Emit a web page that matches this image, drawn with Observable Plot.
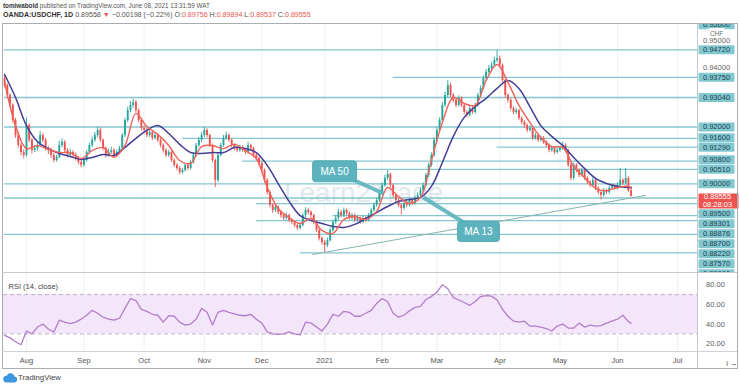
<!DOCTYPE html>
<html><head><meta charset="utf-8">
<script src="https://cdn.jsdelivr.net/npm/d3@7"></script>
<script src="https://cdn.jsdelivr.net/npm/@observablehq/plot@0.6"></script>
<style>
body{margin:0;background:#fff;font-family:"Liberation Sans",Arial,sans-serif;}
#root{position:relative;width:740px;height:389px;overflow:hidden;background:#fff;}
.abs{position:absolute;}
.red{color:#ef5350;}
</style></head>
<body><div id="root"></div>
<script>
// ---------------- DATA ----------------
const firstBarDate = "2020-07-22";       // first daily bar (weekdays only)
const firstOpen = 0.9370;
const closes = [
0.9346,0.9311,0.9276,0.9223,0.9170,0.9135,0.9110,0.9100,0.9205,0.9153,
0.9117,0.9124,0.9135,0.9170,0.9153,0.9124,0.9117,0.9100,0.9082,0.9093,
0.9135,0.9146,0.9117,0.9100,0.9110,0.9100,0.9089,0.9075,0.9065,0.9082,
0.9110,0.9135,0.9153,0.9170,0.9188,0.9153,0.9124,0.9100,0.9110,0.9117,
0.9100,0.9110,0.9124,0.9170,0.9223,0.9258,0.9276,0.9286,0.9258,0.9223,
0.9195,0.9188,0.9170,0.9181,0.9160,0.9170,0.9153,0.9135,0.9117,0.9100,
0.9110,0.9082,0.9065,0.9054,0.9040,0.9047,0.9065,0.9054,0.9075,0.9100,
0.9135,0.9153,0.9170,0.9188,0.9170,0.9135,0.9082,0.9012,0.9100,0.9135,
0.9160,0.9170,0.9153,0.9135,0.9124,0.9117,0.9128,0.9117,0.9110,0.9135,
0.9124,0.9100,0.9089,0.9072,0.9047,0.9012,0.8969,0.8924,0.8906,0.8917,
0.8899,0.8888,0.8878,0.8888,0.8871,0.8864,0.8853,0.8843,0.8853,0.8888,
0.8906,0.8899,0.8888,0.8864,0.8836,0.8807,0.8793,0.8783,0.8800,0.8836,
0.8864,0.8878,0.8899,0.8888,0.8906,0.8895,0.8878,0.8888,0.8871,0.8878,
0.8864,0.8878,0.8871,0.8888,0.8906,0.8924,0.8941,0.8966,0.8994,0.9019,
0.9033,0.8994,0.8959,0.8941,0.8924,0.8913,0.8931,0.8924,0.8941,0.8931,
0.8948,0.8959,0.8976,0.8994,0.9029,0.9065,0.9100,0.9153,0.9188,0.9223,
0.9276,0.9311,0.9346,0.9311,0.9294,0.9276,0.9301,0.9276,0.9251,0.9241,
0.9265,0.9251,0.9276,0.9311,0.9336,0.9371,0.9392,0.9406,0.9417,0.9434,
0.9441,0.9417,0.9364,0.9311,0.9294,0.9265,0.9251,0.9258,0.9230,0.9216,
0.9205,0.9188,0.9195,0.9160,0.9170,0.9153,0.9160,0.9146,0.9135,0.9117,
0.9124,0.9110,0.9117,0.9124,0.9135,0.9117,0.9065,0.9019,0.9065,0.9047,
0.9029,0.9047,0.9019,0.9005,0.8994,0.9012,0.8984,0.8969,0.8959,0.8976,
0.8969,0.8984,0.8991,0.8984,0.8994,0.9012,0.9001,0.9019,0.89756,0.89555];
const highs = [
0.9385,0.9352,0.9318,0.9282,0.9230,0.9181,0.9142,0.9120,0.9232,0.9212,
0.9160,0.9135,0.9148,0.9184,0.9178,0.9160,0.9131,0.9126,0.9108,0.9101,
0.9150,0.9158,0.9152,0.9124,0.9121,0.9117,0.9109,0.9096,0.9082,0.9090,
0.9118,0.9143,0.9165,0.9181,0.9200,0.9196,0.9158,0.9130,0.9122,0.9128,
0.9124,0.9119,0.9132,0.9178,0.9231,0.9270,0.9290,0.9298,0.9294,0.9264,
0.9230,0.9204,0.9195,0.9190,0.9186,0.9178,0.9176,0.9159,0.9141,0.9124,
0.9118,0.9116,0.9088,0.9071,0.9060,0.9055,0.9072,0.9070,0.9083,0.9108,
0.9142,0.9162,0.9180,0.9198,0.9194,0.9175,0.9140,0.9087,0.9110,0.9143,
0.9170,0.9182,0.9176,0.9158,0.9141,0.9131,0.9136,0.9134,0.9123,0.9146,
0.9140,0.9129,0.9106,0.9095,0.9078,0.9052,0.9018,0.8975,0.8930,0.8926,
0.8922,0.8905,0.8894,0.8897,0.8893,0.8877,0.8869,0.8859,0.8862,0.8896,
0.8916,0.8913,0.8905,0.8893,0.8870,0.8842,0.8813,0.8800,0.8809,0.8844,
0.8872,0.8888,0.8910,0.8906,0.8915,0.8912,0.8901,0.8896,0.8894,0.8886,
0.8883,0.8887,0.8884,0.8896,0.8914,0.8932,0.8950,0.8975,0.9003,0.9030,
0.9047,0.9038,0.8999,0.8965,0.8947,0.8930,0.8939,0.8938,0.8949,0.8947,
0.8956,0.8968,0.8985,0.9003,0.9037,0.9073,0.9109,0.9161,0.9197,0.9233,
0.9286,0.9322,0.9364,0.9355,0.9318,0.9300,0.9310,0.9306,0.9282,0.9258,
0.9273,0.9271,0.9284,0.9319,0.9345,0.9380,0.9402,0.9416,0.9428,0.9446,
0.9470,0.9450,0.9422,0.9370,0.9318,0.9300,0.9271,0.9266,0.9263,0.9236,
0.9222,0.9211,0.9204,0.9201,0.9178,0.9176,0.9168,0.9166,0.9152,0.9141,
0.9132,0.9129,0.9125,0.9132,0.9146,0.9141,0.9122,0.9070,0.9073,0.9071,
0.9053,0.9055,0.9052,0.9025,0.9011,0.9020,0.9018,0.8990,0.8975,0.8984,
0.8982,0.8992,0.8999,0.8997,0.9003,0.9054,0.9018,0.9054,0.9025,0.89894];
const lows = [
0.9338,0.9302,0.9268,0.9214,0.9160,0.9126,0.9098,0.9088,0.9094,0.9145,
0.9105,0.9110,0.9115,0.9128,0.9144,0.9116,0.9103,0.9090,0.9074,0.9076,
0.9088,0.9127,0.9108,0.9092,0.9093,0.9089,0.9080,0.9066,0.9056,0.9058,
0.9076,0.9104,0.9128,0.9146,0.9162,0.9145,0.9116,0.9090,0.9094,0.9103,
0.9091,0.9094,0.9104,0.9118,0.9163,0.9216,0.9250,0.9266,0.9250,0.9215,
0.9186,0.9178,0.9162,0.9163,0.9152,0.9154,0.9145,0.9127,0.9108,0.9092,
0.9093,0.9075,0.9057,0.9046,0.9032,0.9034,0.9041,0.9047,0.9049,0.9069,
0.9094,0.9128,0.9146,0.9163,0.9162,0.9127,0.9074,0.8987,0.9005,0.9094,
0.9128,0.9153,0.9146,0.9127,0.9116,0.9109,0.9111,0.9110,0.9102,0.9105,
0.9117,0.9092,0.9081,0.9063,0.9039,0.9003,0.8960,0.8915,0.8896,0.8899,
0.8891,0.8879,0.8870,0.8872,0.8864,0.8856,0.8845,0.8835,0.8837,0.8847,
0.8881,0.8891,0.8880,0.8857,0.8828,0.8799,0.8784,0.8758,0.8775,0.8794,
0.8829,0.8857,0.8871,0.8880,0.8881,0.8887,0.8870,0.8871,0.8864,0.8865,
0.8857,0.8859,0.8864,0.8866,0.8882,0.8899,0.8918,0.8935,0.8960,0.8988,
0.9012,0.8986,0.8951,0.8933,0.8916,0.8890,0.8907,0.8916,0.8918,0.8923,
0.8925,0.8942,0.8953,0.8970,0.8988,0.9022,0.9058,0.9093,0.9146,0.9181,
0.9216,0.9268,0.9303,0.9302,0.9285,0.9267,0.9270,0.9268,0.9243,0.9232,
0.9235,0.9243,0.9245,0.9270,0.9305,0.9330,0.9365,0.9385,0.9399,0.9410,
0.9426,0.9409,0.9356,0.9302,0.9285,0.9257,0.9243,0.9244,0.9222,0.9208,
0.9196,0.9180,0.9182,0.9152,0.9154,0.9145,0.9147,0.9139,0.9127,0.9109,
0.9111,0.9102,0.9104,0.9111,0.9118,0.9109,0.9057,0.9010,0.9013,0.9039,
0.9021,0.9023,0.9011,0.8997,0.8986,0.8988,0.8976,0.8961,0.8943,0.8953,
0.8962,0.8963,0.8978,0.8977,0.8978,0.8988,0.8994,0.8995,0.8970,0.89537];

// moving averages read every 4th bar (bars 0,4,...,228) plus the last bar 229
const maSlow = [
0.9385,0.9304,0.9205,0.9149,0.9124,0.9107,0.9096,0.9086,0.9093,0.9103,
0.9100,0.9128,0.9160,0.9188,0.9205,0.9177,0.9139,0.9110,0.9107,0.9110,
0.9110,0.9128,0.9124,0.9110,0.9065,0.9001,0.8938,0.8888,0.8871,0.8860,
0.8850,0.8846,0.8857,0.8878,0.8899,0.8920,0.8938,0.8945,0.8952,0.8991,
0.9075,0.9167,0.9234,0.9272,0.9301,0.9336,0.9364,0.9336,0.9272,0.9205,
0.9167,0.9135,0.9093,0.9054,0.9019,0.9001,0.8991,0.8987,0.8987];
const maFast = [
0.9357,0.9205,0.9124,0.9135,0.9121,0.9110,0.9110,0.9089,0.9117,0.9128,
0.9093,0.9135,0.9248,0.9202,0.9174,0.9135,0.9082,0.9072,0.9131,0.9135,
0.9124,0.9139,0.9117,0.9089,0.8987,0.8913,0.8881,0.8860,0.8878,0.8836,
0.8825,0.8874,0.8885,0.8874,0.8903,0.8987,0.8955,0.8931,0.8952,0.9082,
0.9216,0.9304,0.9283,0.9276,0.9364,0.9420,0.9357,0.9276,0.9216,0.9163,
0.9131,0.9128,0.9061,0.9022,0.8984,0.8976,0.8987,0.8991,0.8984];
// RSI(14) read every 2nd bar (0,2,...,228) plus the last bar 229
const rsi = [
28.5,26,22,19,33,30,37,40,35,32,
44,42,40.5,42,45,49,54,51,47,45,
44,46,56,66,64,55,53,50,49,42,
48.6,48,42,39,40,45,56,52,39,52,
54,52,50.5,49,48.5,50,45,41,32,30,
29.5,30,32,30,29,42,41,37,33,40,
50,48,53,52,48,48,51,54,61,66,
63,51,47,49,53.5,57,58,65,68,72.5,
80,76,67,64.5,62,59,63,68,69,68.5,
64.5,55,48,43,42,43,38,38,37,35.5,
33,38,40,36,36,41,37,39,38,38.5,
41,43,45,49,42.5,41];

const monthLabels = ["Aug","Sep","Oct","Nov","Dec","2021","Feb","Mar","Apr","May","Jun","Jul"];
const levelPrices = [0.9472,0.9375,0.9304,0.9200,0.9160,0.9129,0.9080,0.9051,0.9000,0.8950,0.89301,0.88876,0.8870,0.8822,0.8757];
const levelFromBar = [0,142,0,0,65,180,87,113,0,0,92,120,92,0,108];
const axisBoxed = [0.9560,0.9472,0.9375,0.9304,0.9200,0.9160,0.9129,0.9080,0.9051,0.9000,0.8950,0.89301,0.88876,0.8870,0.8822,0.8757,0.8699];
const axisPlain = [0.9500,0.9400];
const currency = "CHF";
const lastPrice = 0.89555, countdown = "08:28:03";
const trendBars = [112.5, 234.2], trendPrices = [0.8751, 0.8959];
const calloutText = ["MA 50","MA 13"];
const calloutBar = [120.6, 173.2], calloutPrice = [0.9044, 0.8832];
const pointerBar = [138.5, 153.1], pointerPrice = [0.8966, 0.8952];
const watermark = {text: "Learn2Trade", bar: 131.2, price: 0.8966};
const rsiTicks = [80, 60, 40, 20];
const rsiBand = [30, 70];

// ---------------- LAYOUT / STYLE ----------------
const priceDomain = [0.86876, 0.95611];
const rsiDomain = [11.4, 91.5];
const xDomain = [-0.40, 253.26];
const UP = "#26a69a", DOWN = "#ef5350", NAVY = "#433e95", FAST = "#f0625a";
const TEAL = "#86c6cf", BOX = "#82c8d1", CALL = "#5db3bd";
const font = {fontFamily: "Liberation Sans, Arial, sans-serif", fontSize: "7.5px", background: "transparent", overflow: "hidden"};

// weekday calendar
const dates = [];
for (let d = new Date(firstBarDate + "T00:00:00Z"); dates.length < 262; d = new Date(+d + 864e5)) {
  const w = d.getUTCDay(); if (w !== 0 && w !== 6) dates.push(d);
}
const monthIdx = [];
for (let i = 1; i < dates.length; i++) if (dates[i].getUTCMonth() !== dates[i-1].getUTCMonth()) monthIdx.push(i);
const monthTicks = monthIdx.slice(0, monthLabels.length);

const bars = closes.map((c, i) => ({i, date: dates[i], open: i ? closes[i-1] : firstOpen, close: c, high: highs[i], low: lows[i]}));
const upBars = bars.filter(d => d.close >= d.open), downBars = bars.filter(d => d.close < d.open);
const s4 = d3.range(0, 229, 4).concat([229]);
const s2 = d3.range(0, 229, 2).concat([229]);
const slow = maSlow.map((v, k) => ({i: s4[k], v}));
const fast = maFast.map((v, k) => ({i: s4[k], v}));
const rsiPts = rsi.map((v, k) => ({i: s2[k], v}));
const levels = levelPrices.map((p, k) => ({p, from: levelFromBar[k]}));

// axis label placement (avoid overlaps like the original price scale)
const PH = 250;
const yS = d3.scaleLinear(priceDomain, [PH - 1, 1]);
const Hh = 9.5;
const pc = yS(lastPrice);
const labs = [...axisBoxed.map(v => ({v, boxed: true})), ...axisPlain.map(v => ({v, boxed: false}))];
let edge = pc - 3;
labs.filter(d => d.v > lastPrice).sort((a, b) => a.v - b.v).forEach(d => { d.py = Math.min(yS(d.v), edge - Hh / 2); edge = d.py - Hh / 2; });
edge = pc + 12;
labs.filter(d => d.v < lastPrice).sort((a, b) => b.v - a.v).forEach(d => { d.py = Math.max(yS(d.v), edge + Hh / 2 + 0.5); edge = d.py + Hh / 2; });
labs.forEach(d => { d.pos = yS.invert(d.py); d.label = d3.format(".5f")(d.v); });
const cur = [{pos: yS.invert(pc + 4.5), a: yS.invert(pc), b: yS.invert(pc + 8)}];

function rrect(w, h, r) {
  return {draw(ctx) {
    const x = -w / 2, y = -h / 2;
    ctx.moveTo(x + r, y); ctx.lineTo(x + w - r, y); ctx.arcTo(x + w, y, x + w, y + r, r);
    ctx.lineTo(x + w, y + h - r); ctx.arcTo(x + w, y + h, x + w - r, y + h, r);
    ctx.lineTo(x + r, y + h); ctx.arcTo(x, y + h, x, y + h - r, r);
    ctx.lineTo(x, y + r); ctx.arcTo(x, y, x + r, y, r); ctx.closePath();
  }};
}

const callouts = calloutText.map((t, k) => ({t, x: calloutBar[k], y: calloutPrice[k], x2: pointerBar[k], y2: pointerPrice[k]}));

const price = Plot.plot({
  width: 740, height: PH, marginTop: 1, marginBottom: 1, marginLeft: 3, marginRight: 43,
  x: {domain: xDomain, axis: null},
  y: {domain: priceDomain, axis: null},
  style: font,
  marks: [
    Plot.ruleX(monthTicks, {stroke: "#eef1f5"}),
    Plot.text([watermark], {x: "bar", y: "price", text: "text", fontSize: 28, fill: "#d9e2ea", fillOpacity: 0.8}),
    Plot.ruleY(levels, {y: "p", x1: "from", x2: xDomain[1], stroke: TEAL, strokeWidth: 1.3}),
    Plot.link([0], {x1: trendBars[0], y1: trendPrices[0], x2: trendBars[1], y2: trendPrices[1], stroke: "#86b3ad", strokeWidth: 1}),
    Plot.ruleX(upBars, {x: "i", y1: "low", y2: "high", stroke: UP, strokeWidth: 0.9}),
    Plot.ruleX(downBars, {x: "i", y1: "low", y2: "high", stroke: DOWN, strokeWidth: 0.9}),
    Plot.ruleX(upBars, {x: "i", y1: "open", y2: "close", stroke: UP, strokeWidth: 1.9}),
    Plot.ruleX(downBars, {x: "i", y1: "open", y2: "close", stroke: DOWN, strokeWidth: 1.9}),
    Plot.line(slow, {x: "i", y: "v", stroke: NAVY, strokeWidth: 1.5, curve: "catmull-rom"}),
    Plot.line(fast, {x: "i", y: "v", stroke: FAST, strokeWidth: 1.4, curve: "catmull-rom"}),
    Plot.link(callouts, {x1: "x", y1: "y", x2: "x2", y2: "y2", stroke: CALL, strokeWidth: 4, strokeOpacity: 0.9}),
    Plot.dot([callouts[0]], {x: "x", y: "y", symbol: rrect(44, 21, 3), fill: CALL, stroke: "#4aa3ad", strokeWidth: 0.8}),
    Plot.dot([callouts[1]], {x: "x", y: "y", symbol: rrect(42, 20, 3), fill: CALL, stroke: "#4aa3ad", strokeWidth: 0.8}),
    Plot.text(callouts, {x: "x", y: "y", text: "t", fill: "white", fontSize: 10}),
    // price scale labels
    Plot.dot(labs.filter(d => d.boxed), {y: "pos", frameAnchor: "right", dx: 19, symbol: rrect(36, 9, 1), fill: BOX, stroke: "none"}),
    Plot.text(labs, {y: "pos", text: "label", frameAnchor: "right", dx: 19, textAnchor: "middle", fill: d => d.boxed ? "#23404f" : "#666"}),
    Plot.dot([currency], {frameAnchor: "top-right", dx: 19, dy: 7, symbol: rrect(16, 7, 1), fill: "white", stroke: "none"}),
    Plot.text([currency], {frameAnchor: "top-right", dx: 19, dy: 7, textAnchor: "middle", fill: "#666", fontSize: 6.3}),
    Plot.dot(cur, {y: "pos", frameAnchor: "right", dx: 21, symbol: rrect(40, 15, 1), fill: "#ef5350", stroke: "none"}),
    Plot.text(cur, {y: "a", text: () => d3.format(".5f")(lastPrice), frameAnchor: "right", dx: 20, textAnchor: "middle", fill: "white"}),
    Plot.text(cur, {y: "b", text: () => countdown, frameAnchor: "right", dx: 20, textAnchor: "middle", fill: "white"})
  ]
});

const RH = 96;
const rsiPlot = Plot.plot({
  width: 740, height: RH, marginTop: 1, marginBottom: 16.3, marginLeft: 3, marginRight: 43,
  x: {domain: xDomain},
  y: {domain: rsiDomain, axis: null},
  style: {...font, overflow: "visible"},
  marks: [
    Plot.rect([rsiBand], {y1: d => d[0], y2: d => d[1], fill: "#f4e6fa"}),
    Plot.ruleX(monthTicks, {stroke: "#eceef2"}),
    Plot.ruleY(rsiBand, {stroke: "#b5a8bd", strokeDasharray: "4,3", strokeWidth: 0.9}),
    Plot.line(rsiPts, {x: "i", y: "v", stroke: "#b47ccb", strokeWidth: 1.3}),
    Plot.axisX({ticks: monthTicks, tickFormat: d => monthLabels[monthTicks.indexOf(d)], tickSize: 0, tickPadding: 5.5, fill: "#555", fontSize: 7.5}),
    Plot.text(rsiTicks, {y: d => d, text: d => d.toFixed(2), frameAnchor: "right", dx: 18, textAnchor: "middle", fill: "#5a5a5a"}),
    Plot.text(["RSI (14, close)"], {frameAnchor: "top-left", dx: 5, dy: 10, textAnchor: "start", fill: "#444", fontSize: 7.5})
  ]
});

// ---------------- ASSEMBLE ----------------
const root = document.getElementById("root");
function add(html, css) { const d = document.createElement("div"); d.className = "abs"; d.style.cssText = css; d.innerHTML = html; root.appendChild(d); return d; }
add('<b style="color:#333">tomiwabold</b> published on TradingView.com, June 08, 2021 13:31:59 WAT', "left:3px;top:2px;font-size:6.3px;line-height:8px;color:#555;white-space:nowrap;");
add('<b style="color:#333">OANDA:USDCHF, 1D</b> 0.89558 <span class="red">▼</span> −0.00198 (−0.22%) O:<span class="red">0.89756</span> H:<span class="red">0.89894</span> L:<span class="red">0.89537</span> C:<span class="red">0.89555</span>', "left:3px;top:11px;font-size:7.1px;line-height:9px;color:#555;white-space:nowrap;");
const p1 = add("", "left:0;top:23px;"); p1.appendChild(price);
const p2 = add("", "left:0;top:272px;"); p2.appendChild(rsiPlot);
add("", "left:2px;top:23px;width:734px;height:344px;border:1px solid #a9adb3;");
add("", "left:697px;top:23px;width:1px;height:345px;background:#c5c9cf;");
add("", "left:2px;top:272px;width:735px;height:1px;background:#c5c9cf;");
add("", "left:2px;top:351px;width:735px;height:1px;background:#d0d3d8;");
add('<svg width="14" height="11" viewBox="0 0 14 11"><path d="M3.5 10.5 H11 a3 3 0 0 0 0.4-6 a4 4 0 0 0-7.6-0.8 a3.4 3.4 0 0 0-0.3 6.8z" fill="#3d96e0"/></svg>', "left:3px;top:372px;line-height:0;");
add("TradingView", "left:18px;top:373px;font-size:7.8px;line-height:10px;color:#444;");
</script>
</body></html>
